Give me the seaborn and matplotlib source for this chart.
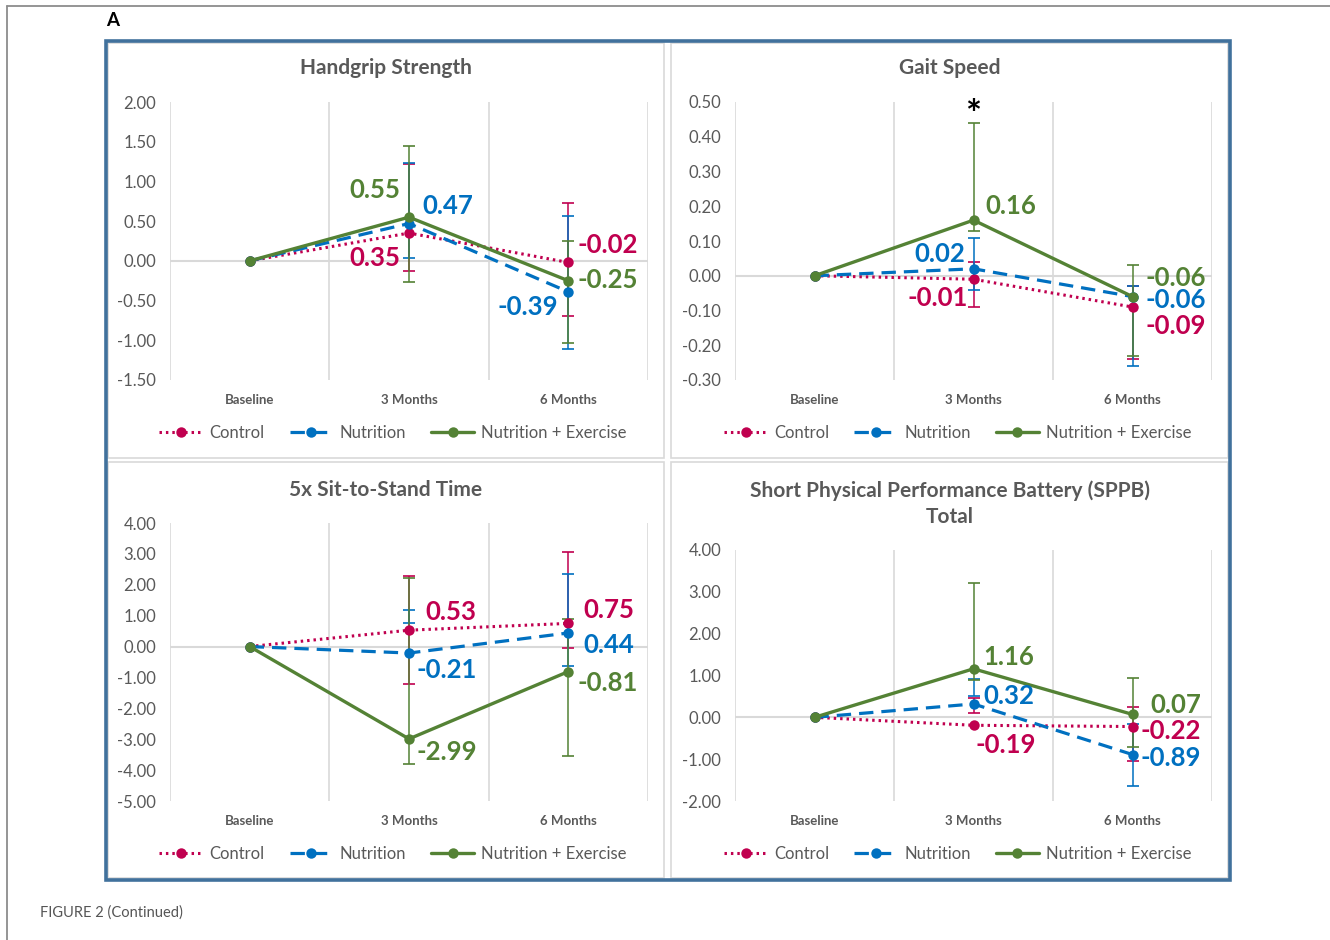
import numpy as np
import pandas as pd
import seaborn as sns
import matplotlib.pyplot as plt
from matplotlib.patches import Rectangle
from matplotlib.lines import Line2D

# ---- data -------------------------------------------------------------
categories = ["Baseline", "3 Months", "6 Months"]
groups = ["Control", "Nutrition", "Nutrition + Exercise"]
nan = np.nan

# Handgrip strength: mean change and error-bar ends
handgrip_control = [0.00, 0.35, -0.02]
handgrip_control_lo = [nan, -0.13, -0.70]
handgrip_control_hi = [nan, 1.22, 0.73]
handgrip_nutrition = [0.00, 0.47, -0.39]
handgrip_nutrition_lo = [nan, 0.04, -1.11]
handgrip_nutrition_hi = [nan, 1.23, 0.57]
handgrip_combined = [0.00, 0.55, -0.25]
handgrip_combined_lo = [nan, -0.26, -1.04]
handgrip_combined_hi = [nan, 1.45, 0.25]

# Gait speed
gait_control = [0.00, -0.01, -0.09]
gait_control_lo = [nan, -0.09, -0.24]
gait_control_hi = [nan, 0.04, -0.03]
gait_nutrition = [0.00, 0.02, -0.06]
gait_nutrition_lo = [nan, -0.04, -0.26]
gait_nutrition_hi = [nan, 0.11, -0.03]
gait_combined = [0.00, 0.16, -0.06]
gait_combined_lo = [nan, 0.13, -0.23]
gait_combined_hi = [nan, 0.44, 0.03]

# 5x sit-to-stand time
sts_control = [0.00, 0.53, 0.75]
sts_control_lo = [nan, -1.20, -0.06]
sts_control_hi = [nan, 2.28, 3.07]
sts_nutrition = [0.00, -0.21, 0.44]
sts_nutrition_lo = [nan, 0.77, -0.63]
sts_nutrition_hi = [nan, 1.18, 2.35]
sts_combined = [0.00, -2.99, -0.81]
sts_combined_lo = [nan, -3.79, -3.55]
sts_combined_hi = [nan, 2.21, 0.88]

# SPPB total
sppb_control = [0.00, -0.19, -0.22]
sppb_control_lo = [nan, 0.10, -1.05]
sppb_control_hi = [nan, 0.46, 0.24]
sppb_nutrition = [0.00, 0.32, -0.89]
sppb_nutrition_lo = [nan, 0.50, -1.65]
sppb_nutrition_hi = [nan, 0.91, -0.15]
sppb_combined = [0.00, 1.16, 0.07]
sppb_combined_lo = [nan, 0.90, -0.70]
sppb_combined_hi = [nan, 3.21, 0.94]

# ---- styling ----------------------------------------------------------
sns.set_theme(style="white")
plt.rcParams["font.family"] = ["Lato", "DejaVu Sans"]
plt.rcParams["axes.unicode_minus"] = False

W, H = 1330, 940
GRAY_TXT = "#595959"
GRID = "#D9D9D9"
colors = {"Control": "#C0004F", "Nutrition": "#0070C0", "Nutrition + Exercise": "#548235"}
line_styles = {
    "Control": dict(linestyle=(0, (0.8, 1.3)), lw=2.2),
    "Nutrition": dict(linestyle=(0, (4.5, 2.5)), lw=2.3),
    "Nutrition + Exercise": dict(linestyle="-", lw=2.4),
}

fig = plt.figure(figsize=(W / 100, H / 100), dpi=100)


def fig_rect(left, top, right, bottom):
    return [left / W, 1 - bottom / H, (right - left) / W, (bottom - top) / H]


# page frame and figure caption
fig.add_artist(Line2D([7 / W, 7 / W], [0, 1 - 6 / H], transform=fig.transFigure,
                      color="#8C8C8C", lw=1.3))
fig.add_artist(Line2D([7 / W, 1], [1 - 6 / H, 1 - 6 / H], transform=fig.transFigure,
                      color="#8C8C8C", lw=1.3))
fig.text(40 / W, 1 - 913 / H, "FIGURE 2 (Continued)", fontsize=10.5, color="#555555",
         ha="left", va="center")
fig.text(106 / W, 1 - 20 / H, "A", fontsize=13.5, fontweight="bold", color="black",
         ha="left", va="center")

# panel boxes
panel_boxes = [(108, 43, 664, 458), (671, 43, 1228, 458),
               (108, 462, 664, 878), (671, 462, 1228, 878)]
for l, t, r, b in panel_boxes:
    x0, y0, w, h = fig_rect(l, t, r, b)
    fig.add_artist(Rectangle((x0, y0), w, h, transform=fig.transFigure,
                             facecolor="white", edgecolor=GRID, lw=1.2, zorder=0))
x0, y0, w, h = fig_rect(106, 41, 1230, 880)
fig.add_artist(Rectangle((x0, y0), w, h, transform=fig.transFigure, fill=False,
                         edgecolor="#41719C", lw=2.6, zorder=5))

panels = [
    dict(title="Handgrip Strength", rect=(170, 102, 648, 380), title_xy=(386, 68),
         ylim=(-1.5, 2.0), step=0.5, legend_y=433,
         series=[(handgrip_control, handgrip_control_lo, handgrip_control_hi),
                 (handgrip_nutrition, handgrip_nutrition_lo, handgrip_nutrition_hi),
                 (handgrip_combined, handgrip_combined_lo, handgrip_combined_hi)],
         offsets={"Control": [(-9, -25, "right"), (9, 17, "left")],
                  "Nutrition": [(13, 18, "left"), (-10, -15, "right")],
                  "Nutrition + Exercise": [(-9, 27, "right"), (9, 1, "left")]}),
    dict(title="Gait Speed", rect=(735, 102, 1212, 380), title_xy=(950, 68),
         ylim=(-0.3, 0.5), step=0.1, legend_y=433, star=True,
         series=[(gait_control, gait_control_lo, gait_control_hi),
                 (gait_nutrition, gait_nutrition_lo, gait_nutrition_hi),
                 (gait_combined, gait_combined_lo, gait_combined_hi)],
         offsets={"Control": [(-6, -19, "right"), (13, -19, "left")],
                  "Nutrition": [(-8, 15, "right"), (13, -3, "left")],
                  "Nutrition + Exercise": [(12, 14, "left"), (13, 19, "left")]}),
    dict(title="5x Sit-to-Stand Time", rect=(170, 523, 648, 801), title_xy=(386, 490),
         ylim=(-5.0, 4.0), step=1.0, legend_y=854,
         series=[(sts_control, sts_control_lo, sts_control_hi),
                 (sts_nutrition, sts_nutrition_lo, sts_nutrition_hi),
                 (sts_combined, sts_combined_lo, sts_combined_hi)],
         offsets={"Control": [(16, 18, "left"), (15, 13, "left")],
                  "Nutrition": [(8, -17, "left"), (15, -12, "left")],
                  "Nutrition + Exercise": [(8, -13, "left"), (9, -11, "left")]}),
    dict(title="Short Physical Performance Battery (SPPB)\nTotal", rect=(735, 550, 1212, 801),
         title_xy=(950, 503.5), ylim=(-2.0, 4.0), step=1.0, legend_y=854,
         series=[(sppb_control, sppb_control_lo, sppb_control_hi),
                 (sppb_nutrition, sppb_nutrition_lo, sppb_nutrition_hi),
                 (sppb_combined, sppb_combined_lo, sppb_combined_hi)],
         offsets={"Control": [(2, -20, "left"), (8, -4, "left")],
                  "Nutrition": [(10, 8, "left"), (8, -3, "left")],
                  "Nutrition + Exercise": [(10, 12, "left"), (18, 9, "left")]}),
]

xpos = np.arange(len(categories))

for p in panels:
    ax = fig.add_axes(fig_rect(*p["rect"]))
    ax.set_facecolor("none")
    for s in ax.spines.values():
        s.set_visible(False)
    for gx in (-0.5, 0.5, 1.5, 2.5):
        ax.axvline(gx, color=GRID, lw=1.2, zorder=0)
    ax.axhline(0, color=GRID, lw=1.5, zorder=0)

    for g, (vals, lo, hi) in zip(groups, p["series"]):
        c = colors[g]
        df = pd.DataFrame({"visit": xpos, "change": vals})
        sns.lineplot(data=df, x="visit", y="change", ax=ax, color=c, marker="o",
                     markersize=7.5, markeredgewidth=0, legend=False, zorder=3,
                     **line_styles[g])
        lo_a, hi_a = np.array(lo), np.array(hi)
        ok = ~np.isnan(lo_a)
        ax.vlines(xpos[ok], lo_a[ok], hi_a[ok], colors=c, lw=1.1, zorder=2)
        ax.plot(xpos[ok], lo_a[ok], ls="none", marker="_", ms=8, mew=1.2, color=c, zorder=2)
        ax.plot(xpos[ok], hi_a[ok], ls="none", marker="_", ms=8, mew=1.2, color=c, zorder=2)
        for i, (dx, dy, ha) in zip([1, 2], p["offsets"][g]):
            ax.annotate(f"{vals[i]:.2f}", (xpos[i], vals[i]), xytext=(dx, dy),
                        textcoords="offset pixels", ha=ha, va="center",
                        fontsize=18.5, fontweight="bold", color=c, zorder=6)

    if p.get("star"):
        top = gait_combined_hi[1]
        ax.annotate("*", (xpos[1], top), xytext=(0, -10), textcoords="offset pixels",
                    ha="center", va="bottom", fontsize=27, fontweight="bold", color="black")

    lo_y, hi_y = p["ylim"]
    ax.set_xlim(-0.5, 2.5)
    ax.set_ylim(lo_y, hi_y)
    ticks = np.arange(lo_y, hi_y + p["step"] / 2, p["step"])
    ax.set_yticks(ticks)
    ax.set_yticklabels([f"{t:.2f}" for t in ticks])
    ax.set_xticks(xpos)
    ax.set_xticklabels(categories, fontweight="bold")
    ax.tick_params(axis="y", length=0, pad=10, labelsize=12, labelcolor=GRAY_TXT)
    ax.tick_params(axis="x", length=0, pad=10, labelsize=9.5, labelcolor=GRAY_TXT)
    ax.set_xlabel("")
    ax.set_ylabel("")

    tx, ty = p["title_xy"]
    fig.text(tx / W, 1 - ty / H, p["title"], ha="center", va="center", fontsize=15,
             fontweight="bold", color=GRAY_TXT, linespacing=1.35)

    handles = [Line2D([], [], color=colors[g], marker="o", markersize=7.5,
                      markeredgewidth=0, **line_styles[g]) for g in groups]
    cx = (p["rect"][0] + p["rect"][2]) / 2 - 16
    fig.legend(handles, groups, loc="center", bbox_to_anchor=(cx / W, 1 - p["legend_y"] / H),
               ncol=3, frameon=False, fontsize=12, labelcolor=GRAY_TXT,
               handlelength=2.6, handletextpad=0.4, columnspacing=1.5)

fig.savefig("out.png", dpi=100, facecolor="white")
